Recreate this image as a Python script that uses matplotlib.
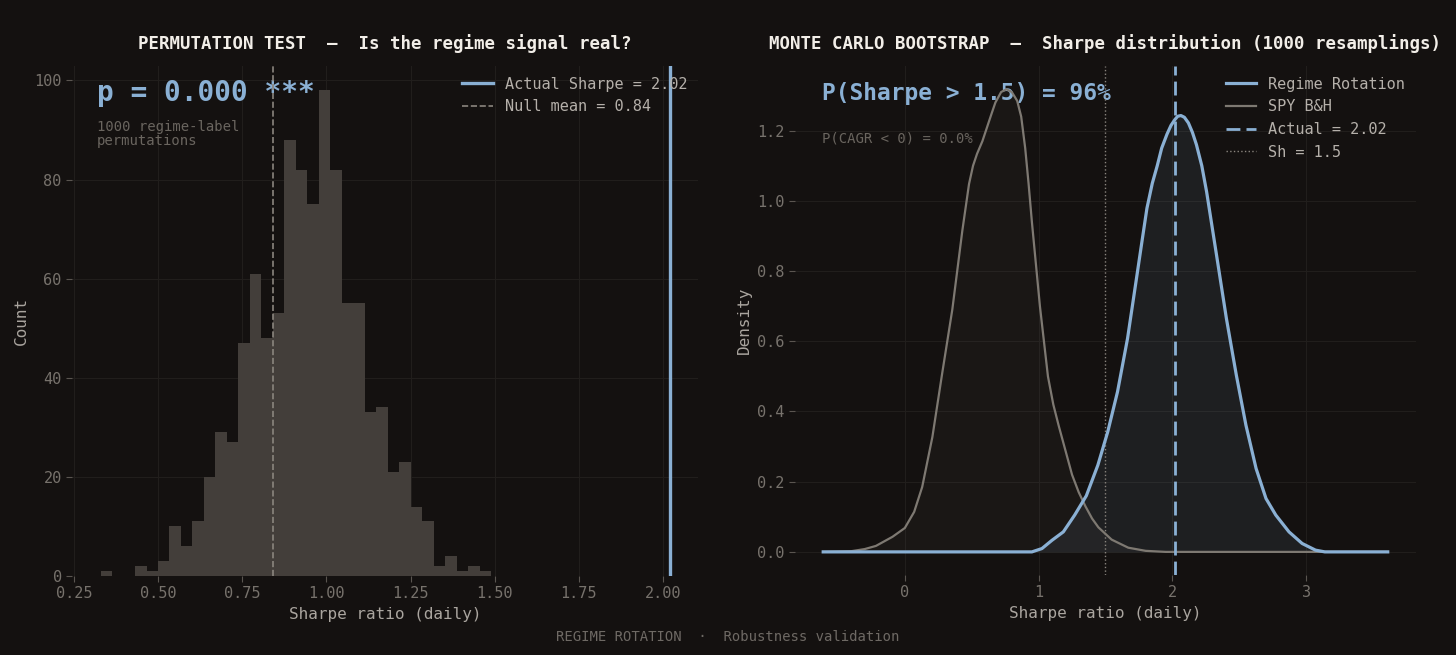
import numpy as np
import matplotlib
matplotlib.use("Agg")
import matplotlib.pyplot as plt
from matplotlib.ticker import MultipleLocator
from matplotlib.lines import Line2D

# --- data ---
# permutation test histogram (34 bins between min and max of the null sharpes)
perm_lo, perm_hi = 0.3286, 1.490
perm_counts = [1, 0, 0, 2, 1, 3, 10, 6, 11, 20, 29, 27, 47, 61, 48, 53, 88,
               82, 75, 98, 82, 55, 55, 33, 34, 21, 23, 14, 11, 2, 4, 1, 2, 1]
actual_sharpe = 2.02
null_mean = 0.84

# bootstrap KDE curves (x, density)
spy_x = [-0.61, -0.40, -0.30, -0.216, -0.092, 0.0, 0.07, 0.13, 0.206, 0.28,
         0.355, 0.43, 0.48, 0.51, 0.54, 0.58, 0.615, 0.65, 0.677, 0.72, 0.76,
         0.80, 0.84, 0.87, 0.90, 0.925, 0.95, 0.98, 1.01, 1.04, 1.07, 1.11,
         1.15, 1.20, 1.25, 1.30, 1.35, 1.40, 1.447, 1.546, 1.67, 1.80, 1.95,
         3.61]
spy_d = [0.0, 0.002, 0.008, 0.017, 0.043, 0.068, 0.114, 0.185, 0.327, 0.51,
         0.69, 0.915, 1.048, 1.10, 1.134, 1.17, 1.21, 1.25, 1.28, 1.31, 1.318,
         1.31, 1.285, 1.24, 1.15, 1.05, 0.94, 0.82, 0.70, 0.60, 0.50, 0.42,
         0.36, 0.29, 0.22, 0.17, 0.13, 0.095, 0.07, 0.035, 0.012, 0.003, 0.0,
         0.0]

rr_x = [-0.61, 0.95, 1.025, 1.10, 1.185, 1.27, 1.357, 1.443, 1.517, 1.59,
        1.665, 1.74, 1.775, 1.81, 1.85, 1.887, 1.92, 1.96, 1.99, 2.02, 2.04,
        2.064, 2.09, 2.12, 2.15, 2.18, 2.22, 2.256, 2.33, 2.404, 2.478, 2.55,
        2.626, 2.70, 2.773, 2.872, 2.97, 3.07, 3.14, 3.61]
rr_d = [0.0, 0.0, 0.0095, 0.033, 0.057, 0.105, 0.16, 0.247, 0.342, 0.456,
        0.608, 0.80, 0.89, 0.979, 1.05, 1.10, 1.15, 1.19, 1.215, 1.232, 1.241,
        1.243, 1.238, 1.222, 1.195, 1.16, 1.10, 1.026, 0.846, 0.665, 0.504,
        0.361, 0.2375, 0.152, 0.105, 0.057, 0.024, 0.005, 0.0, 0.0]
sharpe_threshold = 1.5

# --- style ---
BG = "#141110"
BAR = "#433e3a"
BLUE = "#8ab0d4"
GREY = "#7e7972"
TICK = "#77726c"
LABEL = "#aaa59f"
GRID = "#221f1d"
MONO = ["DejaVu Sans Mono"]

plt.rcParams["font.family"] = MONO
plt.rcParams["axes.unicode_minus"] = False

fig = plt.figure(figsize=(14.56, 6.55), dpi=100, facecolor=BG)
ax1 = fig.add_axes([0.0495, 0.1206, 0.430, 0.7786])
ax2 = fig.add_axes([0.546, 0.1221, 0.4265, 0.777])

for ax in (ax1, ax2):
    ax.set_facecolor(BG)
    for s in ax.spines.values():
        s.set_visible(False)
    ax.grid(True, color=GRID, lw=0.7)
    ax.set_axisbelow(True)
    ax.tick_params(colors="#5a5550", labelcolor=TICK, labelsize=11,
                   length=4, width=0.8)
    ax.set_xlabel("Sharpe ratio (daily)", color=LABEL, fontsize=11.5)

# --- left: permutation test ---
edges = np.linspace(perm_lo, perm_hi, len(perm_counts) + 1)
ax1.bar(edges[:-1], perm_counts, width=np.diff(edges), align="edge",
        color=BAR, linewidth=0, zorder=2)
ax1.axvline(null_mean, color="#8a857e", lw=1.2, ls="--", zorder=4)
ax1.axvline(actual_sharpe, color=BLUE, lw=2.4, zorder=4)
ax1.xaxis.set_major_locator(MultipleLocator(0.25))
ax1.yaxis.set_major_locator(MultipleLocator(20))
ax1.set_ylabel("Count", color=LABEL, fontsize=11.5)
ax1.set_title("PERMUTATION TEST  —  Is the regime signal real?",
              color="#f2eee8", fontsize=12.5, fontweight="bold", pad=12.5)
ax1.text(0.04, 0.975, "p = 0.000 ***", transform=ax1.transAxes,
         color=BLUE, fontsize=20, fontweight="bold", va="top", zorder=1)
ax1.text(0.04, 0.895, "1000 regime-label\npermutations",
         transform=ax1.transAxes, color="#6a655f", fontsize=10, va="top",
         linespacing=1.05)
h1 = [Line2D([], [], color=BLUE, lw=2.4),
      Line2D([], [], color="#8a857e", lw=1.2, ls="--")]
ax1.legend(h1, [f"Actual Sharpe = {actual_sharpe:.2f}",
                f"Null mean = {null_mean:.2f}"],
           loc="upper right", frameon=False, fontsize=11,
           labelcolor="#b5b0aa", borderaxespad=0.3)

# --- right: bootstrap ---
ax2.fill_between(spy_x, spy_d, color=GREY, alpha=0.06, lw=0)
ax2.fill_between(rr_x, rr_d, color=BLUE, alpha=0.09, lw=0)
ax2.plot(spy_x, spy_d, color=GREY, lw=1.6, zorder=3)
ax2.plot(rr_x, rr_d, color=BLUE, lw=2.3, zorder=4)
ax2.axvline(actual_sharpe, color=BLUE, lw=2.0, dashes=(5, 2.2), zorder=5)
ax2.axvline(sharpe_threshold, color="#8a857e", lw=1.0, ls=":", zorder=2)
ax2.set_xticks([0, 1, 2, 3])
ax2.set_ylabel("Density", color=LABEL, fontsize=11.5)
ax2.set_title("MONTE CARLO BOOTSTRAP  —  Sharpe distribution (1000 resamplings)",
              color="#f2eee8", fontsize=12.5, fontweight="bold", pad=12.5)
ax2.text(0.044, 0.968, "P(Sharpe > 1.5) = 96%", transform=ax2.transAxes,
         color=BLUE, fontsize=16.5, fontweight="bold", va="top", zorder=1)
ax2.text(0.044, 0.872, "P(CAGR < 0) = 0.0%", transform=ax2.transAxes,
         color="#6a655f", fontsize=10, va="top")
h2 = [Line2D([], [], color=BLUE, lw=2.3),
      Line2D([], [], color=GREY, lw=1.6),
      Line2D([], [], color=BLUE, lw=2.0, dashes=(5, 2.2)),
      Line2D([], [], color="#8a857e", lw=1.0, ls=":")]
ax2.legend(h2, ["Regime Rotation", "SPY B&H",
                f"Actual = {actual_sharpe:.2f}", f"Sh = {sharpe_threshold}"],
           loc="upper right", frameon=False, fontsize=11,
           labelcolor="#b5b0aa", borderaxespad=0.3)

fig.text(0.5, 0.0275, "REGIME ROTATION  ·  Robustness validation",
         color="#6e6964", fontsize=10, ha="center", va="center")

fig.savefig("out.png", dpi=100, facecolor=BG)
